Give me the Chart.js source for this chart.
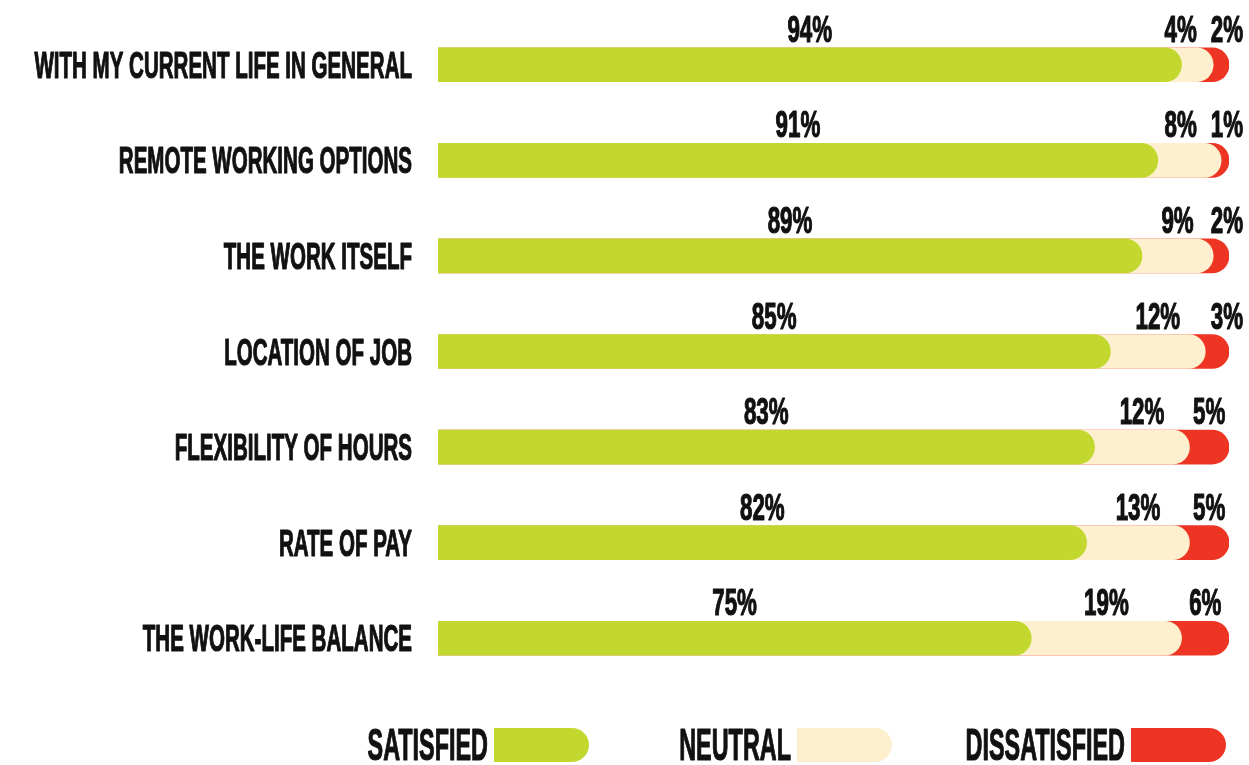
<!DOCTYPE html>
<html>
<head>
<meta charset="utf-8">
<script src="https://cdn.jsdelivr.net/npm/chart.js@4.4.1/dist/chart.umd.min.js"></script>
<style>
  html, body { margin: 0; background: #fff; }
  #wrap { width: 1249px; height: 765px; }
</style>
</head>
<body>
<div id="wrap"><canvas id="chart"></canvas></div>
<script>
const categories = [
    'WITH MY CURRENT LIFE IN GENERAL',
    'REMOTE WORKING OPTIONS',
    'THE WORK ITSELF',
    'LOCATION OF JOB',
    'FLEXIBILITY OF HOURS',
    'RATE OF PAY',
    'THE WORK-LIFE BALANCE'
];
const satisfied = [94, 91, 89, 85, 83, 82, 75];
const neutral = [4, 8, 9, 12, 12, 13, 19];
const dissatisfied = [2, 1, 2, 3, 5, 5, 6];
const seriesNames = ['SATISFIED', 'NEUTRAL', 'DISSATISFIED'];
const seriesColors = ['#c2d82f', '#fef0ce', '#ee3524'];

const FONT = '"Liberation Sans Narrow", "Arial Narrow", sans-serif';

// each segment is drawn from 0 to its running total, green on top
const series = [satisfied, neutral, dissatisfied];
const runningTotals = series.map((s, k) =>
    categories.map((c, i) => series.slice(0, k + 1).reduce((sum, arr) => sum + arr[i], 0)));

// condensed poster look: bold narrow font squeezed horizontally
function squeezeText(ctx, text, x, y, size, sx, align) {
    ctx.save();
    ctx.font = 'bold ' + size + 'px ' + FONT;
    ctx.fillStyle = '#111';
    ctx.strokeStyle = '#111';
    ctx.lineWidth = 1.2;
    ctx.lineJoin = 'round';
    ctx.textAlign = align;
    ctx.textBaseline = 'alphabetic';
    ctx.translate(x, y);
    ctx.scale(sx, 1);
    ctx.fillText(text, 0, 0);
    ctx.strokeText(text, 0, 0);
    ctx.restore();
}

function textWidth(ctx, text, size, sx) {
    ctx.save();
    ctx.font = 'bold ' + size + 'px ' + FONT;
    const w = ctx.measureText(text).width * sx;
    ctx.restore();
    return w;
}

const labelsPlugin = {
    id: 'labelsPlugin',
    afterDraw(chart) {
        const ctx = chart.ctx;
        const xs = chart.scales.x;
        const ys = chart.scales.y;
        const right = chart.chartArea.right;

        categories.forEach((cat, i) => {
            const yc = ys.getPixelForValue(i);
            squeezeText(ctx, cat, 412, yc + 13, 37, 0.555, 'right');

            // percent labels above each segment
            const size = 36, sx = 0.62;
            const base = yc - 23;
            const pos = series.map((s, k) => {
                const start = k === 0 ? 0 : runningTotals[k - 1][i];
                const end = runningTotals[k][i];
                return xs.getPixelForValue((start + end) / 2);
            });
            const txt = series.map(s => s[i] + '%');
            const w = txt.map(t => textWidth(ctx, t, size, sx));
            const segW = xs.getPixelForValue(dissatisfied[i]) - xs.getPixelForValue(0);
            if (segW < w[2]) pos[2] = right + 14 - w[2] / 2;
            if (pos[1] + w[1] / 2 > pos[2] - w[2] / 2 - 14) pos[1] = pos[2] - w[2] / 2 - 14 - w[1] / 2;
            txt.forEach((t, k) => squeezeText(ctx, t, pos[k], base, size, sx, 'center'));
        });

        // legend
        const legendX = [494, 797, 1131];
        const swW = 95, swH = 34, swY = 728;
        seriesNames.forEach((name, k) => {
            squeezeText(ctx, name, legendX[k] - 6, swY + swH / 2 + 15, 45, 0.52, 'right');
            ctx.save();
            ctx.fillStyle = seriesColors[k];
            ctx.beginPath();
            ctx.roundRect(legendX[k], swY, swW, swH, [0, swH / 2, swH / 2, 0]);
            ctx.fill();
            ctx.restore();
        });
    }
};

const ctx = document.getElementById('chart').getContext('2d');
window.myChart = new Chart(ctx, {
    type: 'bar',
    data: {
        labels: categories,
        datasets: seriesNames.map((name, k) => ({
            label: name,
            data: runningTotals[k],
            backgroundColor: seriesColors[k],
            borderWidth: 0,
            borderRadius: 17,
            borderSkipped: 'start',
            barThickness: 34,
            grouped: false
        }))
    },
    plugins: [labelsPlugin],
    options: {
        indexAxis: 'y',
        responsive: true,
        maintainAspectRatio: false,
        animation: false,
        layout: { padding: { left: 438, right: 20, top: 17, bottom: 79 } },
        scales: {
            x: { display: false, min: 0, max: 100 },
            y: { display: false }
        },
        plugins: {
            legend: { display: false },
            tooltip: { enabled: false }
        }
    }
});
</script>
</body>
</html>
